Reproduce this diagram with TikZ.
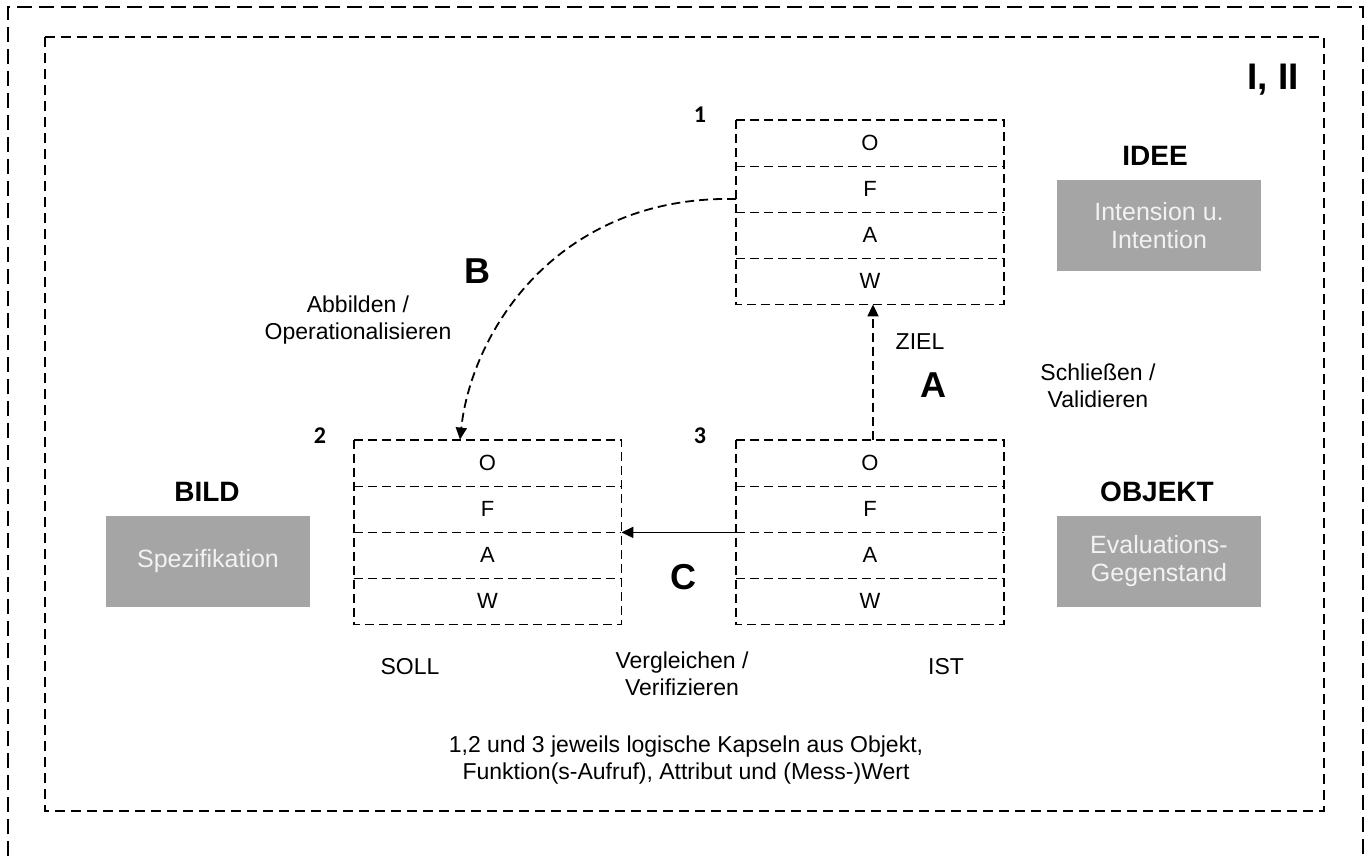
\documentclass[tikz,border=0pt]{standalone}
\usepackage{fontspec}
\setmainfont{Liberation Sans}
\newfontfamily\numfont{Carlito}
\usepackage{tikz}
\usetikzlibrary{arrows.meta,positioning,calc}
\definecolor{boxgray}{HTML}{A5A5A5}
\definecolor{boxtext}{HTML}{F2F2F2}

\begin{document}
\begin{tikzpicture}[
    x=0.5pt, y=-0.5pt,
    frame/.style={line width=1.1pt, dash pattern=on 7.5pt off 3.5pt},
    inframe/.style={line width=1pt, dash pattern=on 5pt off 3pt},
    boxline/.style={line width=0.9pt, dash pattern=on 4.5pt off 2.5pt},
    cell/.style={minimum width=133.5pt, minimum height=23pt, inner sep=0pt, font=\fontsize{11}{12}\selectfont},
    graybox/.style={fill=boxgray, text=boxtext, minimum width=102pt, minimum height=45.5pt, align=center, font=\fontsize{12.5}{14}\selectfont},
    head/.style={font=\fontsize{14}{16}\selectfont\bfseries},
    big/.style={font=\fontsize{18}{20}\selectfont\bfseries},
    num/.style={font=\numfont\fontsize{12}{14}\selectfont\bfseries},
    lbl/.style={font=\fontsize{11.5}{13.5}\selectfont, align=center},
    tip/.style={-{Triangle[length=6pt,width=5.5pt]}}
  ]
  \useasboundingbox (0,0) rectangle (1369,856);
  \draw[frame] (8,856) -- (8,7) -- (1363,7) -- (1363,856);
  \draw[inframe] (45,37) rectangle (1324,811);
  \node[font=\fontsize{18.5}{21}\selectfont\bfseries] (part) at (1273,80) {I, II};

  % capsules 1, 2, 3
  \foreach \n/\x/\y in {1/870/143, 2/487.5/463, 3/870/463} {
    \foreach \r/\t [count=\i from 0] in {o/O,f/F,a/A,w/W}
      \node[cell] (box\n-\r) at (\x,{\y+46*\i}) {\t};
    \draw[boxline] (box\n-o.north west) rectangle (box\n-w.south east);
    \foreach \r in {o,f,a}
      \draw[boxline] (box\n-\r.south west) -- (box\n-\r.south east);
  }
  \node[num] (n1) at (700,115) {1};
  \node[num] (n2) at (320,436) {2};
  \node[num] (n3) at (700,436) {3};

  \node[head] (idee) at (1155,156) {IDEE};
  \node[graybox] (idee-box) at (1159,225.5) {Intension u.\\Intention};
  \node[head] (bild) at (207,492) {BILD};
  \node[graybox] (bild-box) at (208,561.5) {Spezifikation};
  \node[head] (objekt) at (1157,492) {OBJEKT};
  \node[graybox] (objekt-box) at (1159,561.5) {Evaluations-\\Gegenstand};

  % A
  \draw[boxline, tip] ([xshift=1.5pt]box3-o.north) -- ([xshift=1.5pt]box1-w.south);
  \node[lbl] (ziel) at (920,342) {ZIEL};
  \node[big] (a) at (933,385) {A};
  \node[lbl] (a-txt) at (1098,386) {Schließen /\\Validieren};

  % B
  \draw[boxline, tip] ([yshift=-5pt]box1-f.west) .. controls +(-177,-4) and +(12,-110) .. ([xshift=-13.75pt]box2-o.north);
  \node[big] (b) at (477,271) {B};
  \node[lbl] (b-txt) at (358,320) {Abbilden /\\Operationalisieren};

  % C
  \draw[line width=0.9pt, tip] (box3-f.south west) -- (box2-f.south east);
  \node[big] (c) at (683,577) {C};
  \node[lbl] (soll) at (410,667) {SOLL};
  \node[lbl] (c-txt) at (682,674) {Vergleichen /\\Verifizieren};
  \node[lbl] (ist) at (946,667) {IST};
  \node[lbl] (note) at (686,760) {1,2 und 3 jeweils logische Kapseln aus Objekt,\\Funktion(s-Aufruf), Attribut und (Mess-)Wert};
\end{tikzpicture}
\end{document}
